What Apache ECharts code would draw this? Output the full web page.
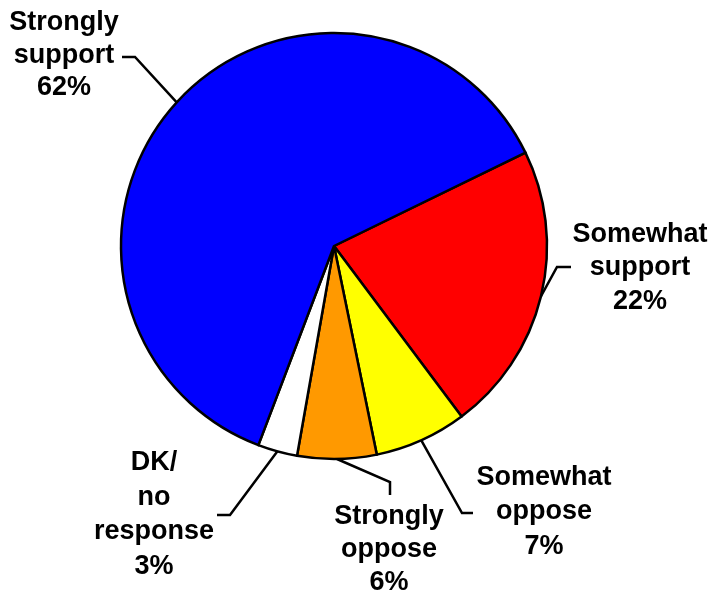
<!DOCTYPE html>
<html>
<head>
<meta charset="utf-8">
<script src="https://cdn.jsdelivr.net/npm/echarts@6/dist/echarts.min.js"></script>
<style>
html,body{margin:0;padding:0;background:#fff;}
#chart{width:718px;height:597px;}
</style>
</head>
<body>
<div id="chart"></div>
<script>
// Data (clockwise starting from "Somewhat support")
const categories = ['Somewhat support', 'Somewhat oppose', 'Strongly oppose', 'DK/ no response', 'Strongly support'];
const labelTexts = ['Somewhat\nsupport', 'Somewhat\noppose', 'Strongly\noppose', 'DK/\nno\nresponse', 'Strongly\nsupport'];
const values = [22, 7, 6, 3, 62];
const colors = ['#FF0000', '#FFFF00', '#FF9900', '#FFFFFF', '#0000FF'];

// Label layout (positions only)
const labelLayoutSpec = [
  { x: 640, y: 268, lh: 33.5, bend: [557, 267], end: [571, 267] },
  { x: 544, y: 512, lh: 34.5, bend: [462, 513], end: [473, 513] },
  { x: 389, y: 550, lh: 33, bend: [390, 482], end: [390, 495] },
  { x: 154, y: 514.5, lh: 34.5, bend: [230, 515], end: [217, 515] },
  { x: 64,  y: 55.5, lh: 32.5, bend: [135, 57],  end: [122, 57] }
];

const chart = echarts.init(document.getElementById('chart'), null, { renderer: 'canvas' });
chart.setOption({
  animation: false,
  backgroundColor: '#ffffff',
  series: [{
    type: 'pie',
    center: [334, 246],
    radius: 213,
    startAngle: 26,
    clockwise: true,
    avoidLabelOverlap: false,
    itemStyle: { borderColor: '#000', borderWidth: 2.5 },
    label: {
      show: true,
      position: 'outside',
      color: '#000',
      fontFamily: 'Liberation Sans, Arial, sans-serif',
      fontWeight: 'bold',
      fontSize: 27,
      lineHeight: 33,
      align: 'center',
      formatter: p => labelTexts[p.dataIndex] + '\n' + p.value + '%'
    },
    labelLine: { show: true, lineStyle: { color: '#000', width: 2.5 }, length: 20, length2: 15 },
    labelLayout: function (params) {
      const s = labelLayoutSpec[params.dataIndex];
      const anchor = params.labelLinePoints ? params.labelLinePoints[0] : s.bend;
      return {
        x: s.x, y: s.y, align: 'center', verticalAlign: 'middle',
        labelLinePoints: [anchor, s.bend, s.end]
      };
    },
    emphasis: { disabled: true },
    data: categories.map((c, i) => ({
      name: c, value: values[i],
      itemStyle: { color: colors[i] },
      label: { lineHeight: labelLayoutSpec[i].lh }
    }))
  }]
});
</script>
</body>
</html>
